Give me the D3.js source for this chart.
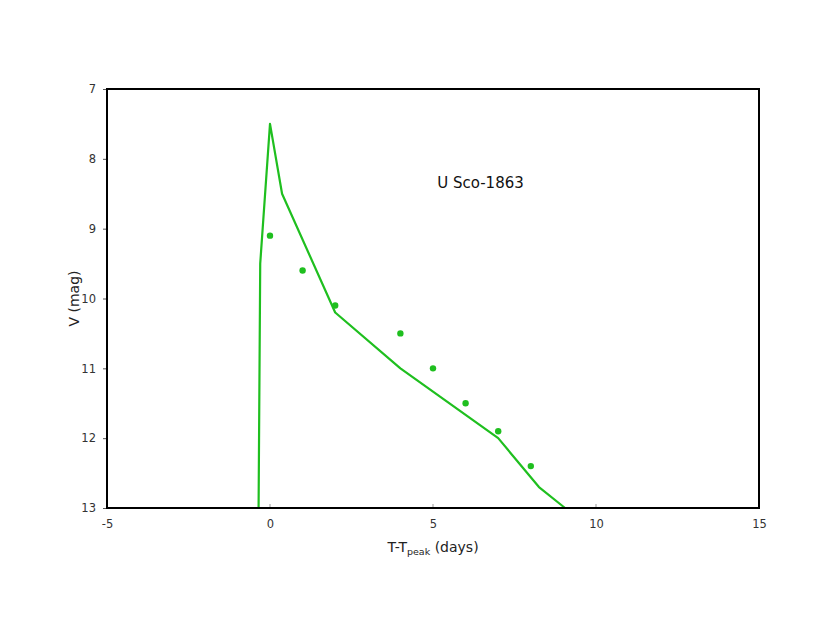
<!DOCTYPE html>
<html>
<head>
<meta charset="utf-8">
<script src="https://d3js.org/d3.v7.min.js"></script>
<style>
body{margin:0;background:#fff;}
text{font-family:"DejaVu Sans",Verdana,sans-serif;}
</style>
</head>
<body>
<script>
// model light curve (line)
var line_t=[-0.35,-0.3,0,0.37,2,4,7,8.25,9.05];
var line_v=[13,9.5,7.5,8.5,10.2,11,12,12.7,13];
// observed points
var obs_t=[0,1,2,4,5,6,7,8];
var obs_v=[9.1,9.6,10.1,10.5,11,11.5,11.9,12.4];
var xticks=[-5,0,5,10,15];
var yticks=[7,8,9,10,11,12,13];
var label='U Sco-1863';

var W=830,H=642;
var marg_left=107,marg_top=89,W0=652,H0=419;
var green='#1fbf1f';

var svg=d3.select('body').append('svg').attr('width',W).attr('height',H);

var xScale=d3.scaleLinear().domain([-5,15]).range([marg_left,marg_left+W0]);
var yScale=d3.scaleLinear().domain([7,13]).range([marg_top,marg_top+H0]);

// x axis, small ticks pointing inside
var xAxis=d3.axisBottom(xScale).tickValues(xticks).tickSize(0).tickPadding(12).tickFormat(function(d){return String(d);});
var gx=svg.append('g').attr('transform','translate(0,'+(marg_top+H0)+')').call(xAxis);
gx.select('.domain').remove();
gx.selectAll('text').attr('font-size',11.5).attr('fill','#333');
svg.append('g').selectAll('line').data(xticks.slice(1,-1)).enter().append('line')
	.attr('x1',function(d){return xScale(d);}).attr('x2',function(d){return xScale(d);})
	.attr('y1',marg_top+H0).attr('y2',marg_top+H0-4)
	.attr('stroke','#999').attr('stroke-width',1);

var yAxis=d3.axisLeft(yScale).tickValues(yticks).tickSize(4).tickPadding(7).tickFormat(function(d){return String(d);});
var gy=svg.append('g').attr('transform','translate('+marg_left+',0)').call(yAxis);
gy.select('.domain').remove();
gy.selectAll('line').attr('stroke','#555');
gy.selectAll('text').attr('font-size',11.5).attr('fill','#333');

// model line
var pts=line_t.map(function(t,i){return [t,line_v[i]];});
var line=d3.line().x(function(d){return xScale(d[0]);}).y(function(d){return yScale(d[1]);});
svg.append('path').datum(pts).attr('d',line)
	.attr('fill','none').attr('stroke',green).attr('stroke-width',2.2).attr('stroke-linejoin','round');

// observations
svg.append('g').selectAll('circle').data(obs_t).enter().append('circle')
	.attr('cx',function(d){return xScale(d);})
	.attr('cy',function(d,i){return yScale(obs_v[i]);})
	.attr('r',3.2).attr('fill',green);

// frame
svg.append('rect').attr('x',marg_left).attr('y',marg_top).attr('width',W0).attr('height',H0)
	.attr('fill','none').attr('stroke','#000').attr('stroke-width',2);

// axis labels
var xl=svg.append('text').attr('x',marg_left+W0/2).attr('y',552)
	.attr('text-anchor','middle').attr('font-size',14).attr('fill','#222');
xl.append('tspan').text('T-T');
xl.append('tspan').attr('font-size',9.5).attr('dy',3).text('peak');
xl.append('tspan').attr('dy',-3).text(' (days)');

svg.append('text').attr('transform','rotate(-90)')
	.attr('x',-(marg_top+H0/2)).attr('y',79)
	.attr('text-anchor','middle').attr('font-size',14).attr('fill','#222')
	.text('V (mag)');

svg.append('text').attr('x',xScale(5.13)).attr('y',yScale(8.42)).attr('font-size',15)
	.attr('fill','#111').text(label);
</script>
</body>
</html>
